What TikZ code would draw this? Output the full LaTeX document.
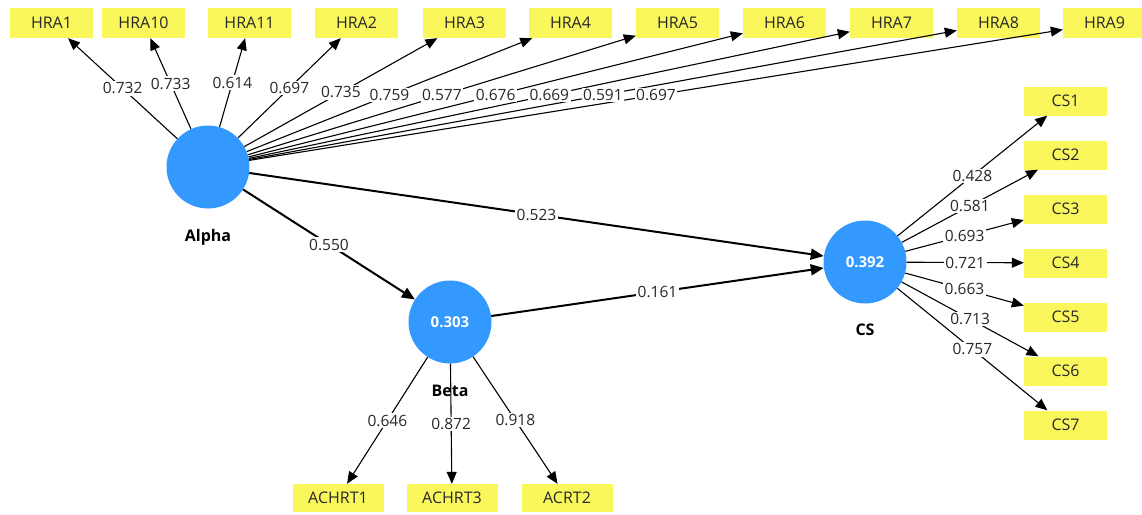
\documentclass[tikz,border=0pt]{standalone}
\usepackage{fontspec}
\setmainfont{Open Sans}
\usetikzlibrary{arrows.meta}
\definecolor{lvblue}{RGB}{51,153,255}
\definecolor{indyel}{RGB}{250,247,92}
\definecolor{txt}{RGB}{40,40,40}
\begin{document}
\begin{tikzpicture}[x=1pt,y=-1pt,
 lv/.style={circle,fill=lvblue,minimum size=83pt,inner sep=0pt,text=white,font=\fontsize{15}{17}\selectfont\bfseries},
 ind/.style={fill=indyel,minimum width=83pt,minimum height=30pt,inner sep=0pt,font=\fontsize{16}{18}\selectfont,text=txt},
 wideind/.style={ind,minimum width=91pt,minimum height=28pt},
 ld/.style={draw,line width=1.1pt,-{Triangle[length=12pt,width=10pt]}},
 pth/.style={draw,line width=2pt,-{Triangle[length=13pt,width=11pt]}},
 val/.style={fill=white,inner sep=1.5pt,font=\fontsize{15.5}{17}\selectfont,text=txt},
 lvname/.style={font=\fontsize{16}{18}\selectfont\bfseries,text=black}]
\useasboundingbox (0,0) rectangle (1142,514);
\fill[white] (0,0) rectangle (1142,514);
% latent variables
\node[lv] (alpha) at (208,167) {};
\node[lv] (beta) at (450,322) {0.303};
\node[lv] (cs) at (865,262) {0.392};
\node[lvname] (alphan) at (208,237) {Alpha};
\node[lvname] (csn) at (865,330) {CS};
% HRA indicators
\node[ind] (hra1) at (51.5,23) {HRA1};
\node[ind] (hra10) at (143.5,23) {HRA10};
\node[ind] (hra11) at (249.5,23) {HRA11};
\node[ind] (hra2) at (356.5,23) {HRA2};
\node[ind] (hra3) at (464.5,23) {HRA3};
\node[ind] (hra4) at (570.5,23) {HRA4};
\node[ind] (hra5) at (677.5,23) {HRA5};
\node[ind] (hra6) at (784.5,23) {HRA6};
\node[ind] (hra7) at (891.5,23) {HRA7};
\node[ind] (hra8) at (998.5,23) {HRA8};
\node[ind] (hra9) at (1104.5,23) {HRA9};
% CS indicators
\foreach \i/\y in {1/101,2/155,3/209,4/263,5/317,6/371,7/425}{
  \node[ind,minimum height=29pt] (cs\i) at (1065.5,\y) {CS\i};
}
% Beta indicators
\node[wideind] (achrt1) at (338,498) {ACHRT1};
\node[wideind] (achrt3) at (452,498) {ACHRT3};
\node[wideind] (acrt2) at (567,498) {ACRT2};
% loadings Alpha
\foreach \n/\k in {hra1/a1,hra10/a2,hra11/a3,hra2/a4,hra3/a5,hra4/a6,hra5/a7,hra6/a8,hra7/a9,hra8/a10,hra9/a11}{
  \draw[ld] (alpha) -- coordinate[midway] (\k) (\n);
}
% loadings CS
\foreach \i in {1,...,7}{
  \draw[ld] (cs) -- coordinate[midway] (c\i) (cs\i);
}
% loadings Beta
\draw[ld] (beta) -- coordinate[midway] (b1) (achrt1);
\draw[ld] (beta) -- coordinate[midway] (b2) (achrt3);
\draw[ld] (beta) -- coordinate[midway] (b3) (acrt2);
% paths
\draw[pth] (alpha) -- coordinate[midway] (p1) (cs);
\draw[pth] (alpha) -- coordinate[midway] (p2) (beta);
\draw[pth] (beta) -- coordinate[midway] (p3) (cs);
% labels
\node[lvname] (betan) at (450,391) {Beta};
\foreach \k/\v in {a1/0.732,a2/0.733,a3/0.614,a4/0.697,a5/0.735,a6/0.759,a7/0.577,a8/0.676,a9/0.669,a10/0.591,a11/0.697,
  c1/0.428,c2/0.581,c3/0.693,c4/0.721,c5/0.663,c6/0.713,c7/0.757,
  b1/0.646,b2/0.872,b3/0.918,p1/0.523,p2/0.550,p3/0.161}{
  \node[val] (l\k) at (\k) {\v};
}
\end{tikzpicture}
\end{document}
